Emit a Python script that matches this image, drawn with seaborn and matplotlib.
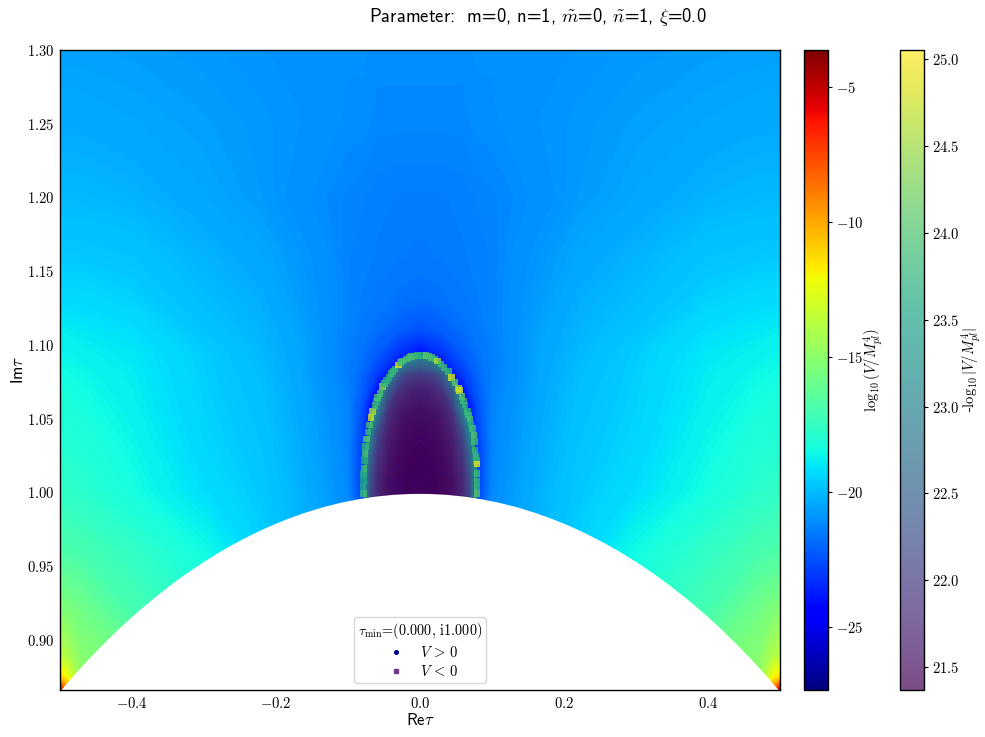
import numpy as np
import matplotlib
matplotlib.use("Agg")
import matplotlib.pyplot as plt
from matplotlib.cm import ScalarMappable
from matplotlib.colors import Normalize
from matplotlib.lines import Line2D
from matplotlib.patches import Polygon, Circle
from matplotlib.ticker import FuncFormatter
import seaborn as sns

# --- data -----------------------------------------------------------------
re_half = [0, .03, .06, .08, .1, .13, .17, .22, .3, .4, .47, .49, .5]
im_rows = [.866, .875, .89, .92, .96, 1.0, 1.03, 1.06, 1.08, 1.095, 1.11, 1.13, 1.16, 1.2, 1.25, 1.3]
logV_half = [
    [-20, -20, -20, -20, -20, -20, -20, -19.5, -18.5, -17, -14, -9, -5],
    [-20, -20, -20, -20, -20, -20, -20, -19.5, -18.5, -17, -15, -12.2, -11.3],
    [-20, -20, -20, -20, -20, -20, -20, -19.5, -18.5, -16, -15.2, -14.1, -13.8],
    [-20, -20, -20, -20, -20, -20, -20, -19.5, -18, -17, -15.8, -15.4, -15.3],
    [-21.3, -21.3, -21.3, -21.3, -21, -20.6, -20.1, -19.5, -18.5, -17.6, -17, -16.9, -16.8],
    [-26, -26, -26, -23, -21.2, -20.7, -20.2, -19.7, -19.2, -18.4, -17.8, -17.7, -17.6],
    [-26, -26, -26, -23, -21.3, -20.8, -20.3, -19.8, -19.4, -18.6, -18.1, -18, -18],
    [-26, -26, -25, -22.5, -21.3, -20.9, -20.4, -19.9, -19.5, -18.8, -18.4, -18.3, -18.2],
    [-26, -25, -23, -22, -21.4, -21.0, -20.45, -20, -19.55, -18.9, -18.6, -18.5, -18.5],
    [-24, -23.2, -22.2, -21.7, -21.4, -21.0, -20.5, -20.1, -19.6, -19, -18.8, -18.7, -18.7],
    [-22.5, -22.2, -21.8, -21.5, -21.3, -21.0, -20.55, -20.2, -19.8, -19.2, -19, -18.9, -18.9],
    [-21.8, -21.7, -21.5, -21.4, -21.3, -21.0, -20.7, -20.3, -20, -19.5, -19.3, -19.3, -19.3],
    [-21.5, -21.45, -21.4, -21.35, -21.3, -21.05, -20.8, -20.5, -20.2, -19.8, -19.7, -19.7, -19.7],
    [-21.4, -21.4, -21.35, -21.3, -21.25, -21.15, -21, -20.75, -20.5, -20.2, -20.1, -20.1, -20.1],
    [-21.2, -21.2, -21.2, -21.1, -21.1, -21, -20.9, -20.8, -20.65, -20.5, -20.4, -20.4, -20.4],
    [-21.1, -21.1, -21.1, -21.05, -21.05, -21, -20.95, -20.9, -20.8, -20.7, -20.65, -20.65, -20.65],
]

dot_re = [-.0787, -.0790, -.0787, -.0785, -.0778, -.0770, -.0764, -.0755, -.0741, -.0725, -.0704, -.0681, -.0657, -.0625,
          -.0605, -.0588, -.0556, -.0519, -.0490, -.0463, -.0430, -.0403, -.0375, -.0347, -.0301, -.0270, -.0241, -.0185,
          -.0150, -.0116, -.0075, -.0037, .0023, .0083, .0120, .0162, .0205, .0245, .0290, .0333, .0394, .0440, .0486, .0532,
          .0546, .0583, .0605, .0625, .0657, .0675, .0694, .0710, .0727, .0750, .0755, .0764, .0778, .0785, .0792, .0792,
          .0792, .0792, .0792]
dot_im = [.9994, 1.0035, 1.0073, 1.012, 1.0163, 1.0215, 1.0265, 1.031, 1.0362, 1.041, 1.0457, 1.0507, 1.0547, 1.0588,
          1.0615, 1.0645, 1.0672, 1.0717, 1.074, 1.0758, 1.078, 1.0807, 1.082, 1.0837, 1.0864, 1.088, 1.0891, 1.0905,
          1.0915, 1.0920, 1.0925, 1.0929, 1.0929, 1.0929, 1.0925, 1.0916, 1.0905, 1.0891, 1.087, 1.0848, 1.0819, 1.0780,
          1.0746, 1.0706, 1.0690, 1.0649, 1.0620, 1.0593, 1.0547, 1.0525, 1.0498, 1.0465, 1.0434, 1.0389, 1.0344, 1.0288,
          1.0242, 1.0215, 1.0193, 1.0129, 1.0073, 1.0035, .9994]
dot_val = [23.9, 23.6, 23.5, 23.7, 23.9, 23.7, 24.0, 23.8, 24.1, 23.8, 24.0, 24.8, 24.6, 23.9,
           23.7, 24.0, 24.0, 24.4, 23.8, 23.7, 23.7, 23.9, 23.8, 23.8, 24.9, 23.9, 24.0, 24.0,
           23.9, 24.0, 23.9, 23.8, 23.7, 24.1, 24.0, 24.0, 23.9, 24.6, 23.9, 23.8, 23.8, 24.8,
           24.1, 24.5, 24.8, 24.1, 23.9, 23.8, 23.8, 23.9, 24.0, 23.7, 23.9, 24.1, 23.9, 23.8,
           23.9, 23.8, 24.9, 23.9, 23.8, 23.8, 24.1]

in_re_half = [0, .015, .03, .045, .06, .07, .08]
in_im = [.99, 1.01, 1.025, 1.04, 1.055, 1.07, 1.08, 1.09, 1.095]
in_val_half = [
    [21.37, 21.38, 21.42, 21.50, 21.75, 22.2, 23.3],
    [21.37, 21.38, 21.42, 21.52, 21.80, 22.3, 23.4],
    [21.38, 21.40, 21.45, 21.58, 21.95, 22.6, 23.5],
    [21.42, 21.44, 21.50, 21.70, 22.20, 23.1, 23.5],
    [21.50, 21.53, 21.63, 21.90, 22.90, 23.5, 23.5],
    [21.70, 21.74, 21.90, 22.50, 23.50, 23.5, 23.5],
    [22.00, 22.05, 22.40, 23.30, 23.50, 23.5, 23.5],
    [22.80, 23.00, 23.50, 23.50, 23.50, 23.5, 23.5],
    [23.50, 23.50, 23.50, 23.50, 23.50, 23.5, 23.5],
]

jet_range = (-27.33, -3.63)
vir_range = (21.37, 25.05)

# --- style ------------------------------------------------------------------
sns.set_theme(style="ticks")
plt.rcParams.update({
    "font.family": "cmss10", "mathtext.fontset": "cm", "axes.unicode_minus": False,
    "xtick.direction": "in", "ytick.direction": "in",
    "axes.edgecolor": "black", "xtick.color": "black", "ytick.color": "black", "text.color": "black",
    "axes.labelcolor": "black", "axes.linewidth": 1.0,
})

W, H = 985, 737
fig = plt.figure(figsize=(W / 100, H / 100), dpi=100)
def box(x0, x1, y0=50, y1=690):
    return [x0 / W, 1 - y1 / H, (x1 - x0) / W, (y1 - y0) / H]
ax = fig.add_axes(box(60, 780))
cax1 = fig.add_axes(box(804, 828))
cax2 = fig.add_axes(box(900, 924))

def mirror_x(half):
    half = np.asarray(half, float)
    return np.concatenate([-half[:0:-1], half])
def mirror_z(z):
    z = np.asarray(z, float)
    return np.hstack([z[:, :0:-1], z])

jet_norm = Normalize(*jet_range)
vir_norm = Normalize(*vir_range)

ax.contourf(mirror_x(re_half), im_rows, mirror_z(logV_half),
            levels=np.linspace(*jet_range, 300), cmap="jet", norm=jet_norm, zorder=1)

inner = ax.contourf(mirror_x(in_re_half), in_im, mirror_z(in_val_half),
                    levels=np.linspace(*vir_range, 200), cmap="viridis", norm=vir_norm, alpha=.92, zorder=1.5)
inner.set_clip_path(Polygon(np.column_stack([dot_re + [.0792, -.0787], dot_im + [.98, .98]]),
                            closed=True, transform=ax.transData))

# the unit circle bounds the fundamental domain: everything inside it is left white
ax.add_patch(Circle((0, 0), .999, fc="white", ec="none", zorder=2))

sns.scatterplot(x=dot_re, y=dot_im, hue=dot_val, palette="viridis", hue_norm=vir_norm, marker="s", s=22,
                alpha=.8, linewidth=0, legend=False, ax=ax, zorder=2.2)

ax.set_xlim(-.5, .5)
ax.set_ylim(.866, 1.30)
ax.set_xticks([-.4, -.2, 0, .2, .4])
ax.set_yticks([.9, .95, 1, 1.05, 1.1, 1.15, 1.2, 1.25, 1.3])
ax.xaxis.set_major_formatter(FuncFormatter(lambda v, p: f"${v:.1f}$"))
ax.yaxis.set_major_formatter(FuncFormatter(lambda v, p: f"${v:.2f}$"))
ax.tick_params(labelsize=10.5, length=3.5, width=0.8, pad=4)
ax.set_xlabel(r"Re$\tau$", fontsize=12, labelpad=1)
ax.set_ylabel(r"Im$\tau$", fontsize=12, labelpad=1)
fig.text(538 / W, 1 - 17 / H, r"Parameter:  m=0, n=1, $\tilde{m}$=0, $\tilde{n}$=1, $\xi$=0.0",
         ha="center", va="center", fontsize=13.4)

handles = [Line2D([], [], ls="", marker="o", ms=2.6, color="#00008b"),
           Line2D([], [], ls="", marker="s", ms=2.8, color="#6f3a8c")]
leg = ax.legend(handles, [r"$V\,>\,0$", r"$V\,<\,0$"], title=r"$\tau_{\min}$=(0.000, i1.000)",
                loc="lower center", bbox_to_anchor=(0.5, 0.0), fontsize=10.5, frameon=True, framealpha=.8,
                borderaxespad=0.5, labelspacing=0.3, borderpad=0.25, handletextpad=0.65)
leg.get_title().set_fontfamily(["cmr10"])
leg.get_title().set_fontsize(10.3)
leg.set_zorder(6)

cb1 = fig.colorbar(ScalarMappable(jet_norm, "jet"), cax=cax1)
cb1.set_ticks([-25, -20, -15, -10, -5])
cb1.ax.yaxis.set_major_formatter(FuncFormatter(lambda v, p: f"${v:.0f}$"))
cb1.set_label(r"$\log_{10}(V/M_{pl}^4)$", fontsize=10.5, labelpad=-2)
cb2 = fig.colorbar(ScalarMappable(vir_norm, "viridis"), cax=cax2, alpha=.7)
cb2.set_ticks([21.5, 22, 22.5, 23, 23.5, 24, 24.5, 25])
cb2.ax.yaxis.set_major_formatter(FuncFormatter(lambda v, p: f"${v:.1f}$"))
cb2.set_label(r"-$\log_{10}|V/M_{pl}^4|$", fontsize=10.5, labelpad=0)
for c in (cax1, cax2):
    c.tick_params(direction="out", labelsize=10.5, length=3, width=.8, right=True, pad=3)

fig.savefig("out.png", dpi=100)
